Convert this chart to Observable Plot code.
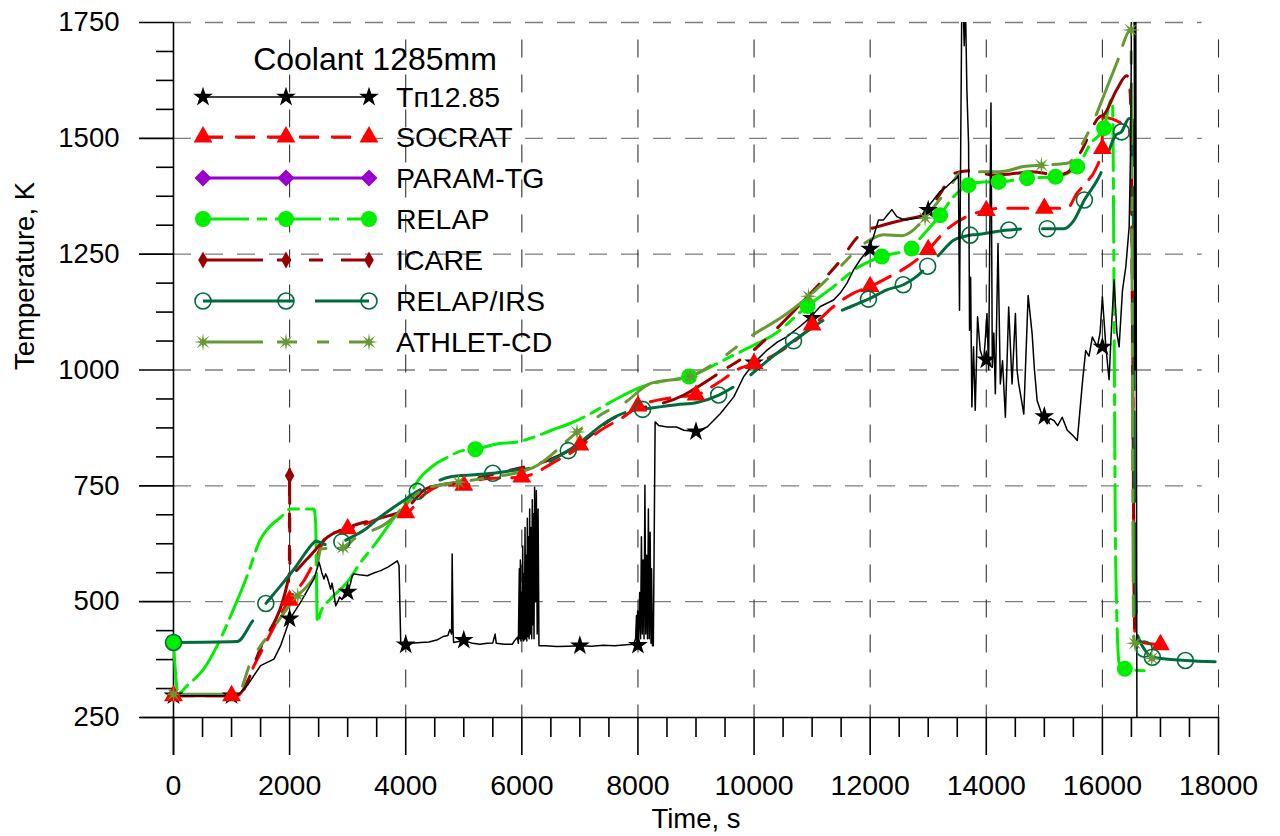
<!DOCTYPE html>
<html>
<head>
<meta charset="utf-8">
<script src="https://cdn.jsdelivr.net/npm/d3@7"></script>
<script src="https://cdn.jsdelivr.net/npm/@observablehq/plot@0.6"></script>
<style>
  html, body { margin: 0; padding: 0; background: #fff; }
  svg { display: block; }
</style>
</head>
<body>
<div id="chart"></div>
<script>
// ---------------- DATA (time s, temperature K) ----------------
const xTicks = [0, 2000, 4000, 6000, 8000, 10000, 12000, 14000, 16000, 18000];
const yTicks = [250, 500, 750, 1000, 1250, 1500, 1750];

const tp1285 = [
 [0,297],[1100,297],[1270,319],[1500,362],[1615,369],[1730,376],[1845,405],[2006,463],[2190,499],[2420,549],
 [2506,585],[2530,575],[2560,560],[2592,549],[2620,560],[2650,552],[2707,527],[2730,540],[2760,520],[2793,491],
 [2830,500],[2860,510],[2900,505],[2950,515],[3006,522],[3050,540],[3080,556],[3109,560],[3200,558],[3339,556],
 [3450,562],[3569,567],[3700,575],[3856,588],[3885,578],[3914,412],[4000,407],[4100,410],[4259,412],[4400,413],
 [4550,418],[4650,425],[4726,427],[4760,440],[4790,430],[4800,603],[4815,440],[4825,412],[5000,416],[5150,410],
 [5280,408],[5400,410],[5500,411],[5539,430],[5560,410],[5700,408],[5834,408],[5870,415],[5926,423],[5940,410],
 [5957,571],[5965,420],[5975,590],[5985,415],[5995,520],[6005,420],[6015,620],[6025,415],[6035,560],[6045,418],
 [6055,660],[6065,420],[6075,600],[6085,415],[6095,680],[6105,425],[6115,640],[6125,420],[6135,700],[6145,430],
 [6160,660],[6170,420],[6180,720],[6190,450],[6200,690],[6210,420],[6220,747],[6235,500],[6250,740],[6265,430],
 [6280,700],[6295,405],[6400,405],[6600,403],[6800,404],[7000,405],[7200,404],[7400,406],[7600,405],[7800,407],
 [7926,408],[7960,420],[7975,470],[7985,410],[7995,480],[8010,415],[8030,520],[8045,420],[8060,640],[8075,430],
 [8090,590],[8105,420],[8120,751],[8135,430],[8150,600],[8165,420],[8180,700],[8195,420],[8210,650],[8225,410],
 [8234,571],[8250,405],[8265,405],[8296,888],[8357,880],[8504,877],[8665,877],[8791,870],[8991,867],[9192,877],
 [9421,906],[9651,942],[9823,986],[10006,1016],[10224,1043],[10400,1060],[10568,1072],[10800,1095],[10957,1112],
 [11141,1137],[11370,1151],[11485,1166],[11599,1187],[11714,1216],[11828,1238],[11972,1261],[12058,1288],
 [12144,1324],[12230,1324],[12300,1335],[12373,1346],[12459,1331],[12550,1326],[12631,1324],[12750,1327],
 [12860,1328],[12946,1345],[13089,1367],[13200,1385],[13320,1396],[13420,1408],[13493,1414],[13520,1420],
 [13539,1129],[13562,1525],[13579,1800],[13600,1800],[13620,1700],[13640,1800],[13666,1604],[13695,1489],
 [13712,1086],[13730,1200],[13752,920],[13780,1050],[13810,913],[13850,1115],[13896,1042],[13954,1021],
 [13980,1060],[14012,1122],[14040,1000],[14081,1576],[14104,1006],[14130,1080],[14156,949],[14202,1273],
 [14242,970],[14280,1020],[14329,898],[14386,1136],[14444,970],[14502,1122],[14530,1000],[14559,970],[14600,940],
 [14646,905],[14721,1161],[14790,1078],[14830,1000],[14876,934],[14963,902],[15049,884],[15100,895],[15164,891],
 [15230,880],[15308,898],[15395,870],[15480,860],[15568,848],[15654,970],[15712,1042],[15770,1030],[15827,1071],
 [15914,1050],[15960,1080],[16000,1158],[16060,1050],[16115,979],[16160,1100],[16202,1194],[16250,1080],
 [16288,1050],[16346,1172],[16404,1223],[16461,1309],[16490,1500],[16502,1800],[16548,1800],[16560,1000],
 [16575,1800],[16595,200]
];
const tp1285Marks = [[0,297],[1000,297],[2000,463],[3000,521],[4000,407],[5000,417],[7000,405],[8000,406],
 [9000,867],[10000,1016],[11000,1112],[12000,1261],[13000,1345],[14000,1022],[15000,900],[16000,1050]];

const socrat = [
 [0,297],[1100,297],[1420,370],[1772,455],[1988,503],[2265,549],[2420,585],[2649,642],[2757,648],[2994,657],
 [3224,664],[3511,678],[3803,688],[4018,692],[4295,729],[4665,751],[5003,751],[5342,765],[6000,769],[6203,776],
 [6511,798],[7046,838],[7311,866],[7742,898],[8018,922],[8676,942],[8991,946],[9364,971],[9765,1004],[10023,1014],
 [10396,1036],[11026,1097],[11370,1137],[11714,1166],[12000,1180],[12344,1202],[12688,1227],[13003,1260],
 [13318,1303],[13662,1331],[13977,1344],[14242,1349],[14991,1349],[15395,1349],[15560,1381],[15731,1406],
 [15870,1430],[15989,1475],[16010,1545],[16450,1520],[16490,1500],[16560,430],[16700,412],[17022,407]
];
const socratMarks = [[0,297],[1000,297],[2000,503],[3000,657],[4000,692],[5000,751],[6000,769],[7000,838],
 [8000,922],[9000,946],[10000,1014],[11000,1097],[12000,1180],[13000,1260],[14000,1344],[15000,1349],
 [16000,1478],[17000,407]];

const paramTG = [];        // listed in the legend, no curve visible
const paramTGMarks = [];

const relap = [
 [0,412],[80,302],[236,319],[523,355],[753,405],[1011,477],[1270,556],[1500,635],[1672,664],[1845,682],
 [2017,700],[2420,700],[2448,671],[2477,455],[2534,477],[2707,506],[2818,520],[2994,542],[3224,585],[3454,621],
 [3741,671],[3988,713],[4234,765],[4480,794],[4726,812],[4972,826],[5200,829],[5588,841],[5896,844],[6203,855],
 [6511,870],[6819,884],[7126,902],[7434,924],[7742,945],[8049,963],[8357,974],[8880,986],[9536,1025],
 [9937,1050],[10338,1076],[10920,1138],[11370,1180],[11771,1220],[12200,1245],[12715,1262],[12859,1284],
 [13205,1334],[13435,1374],[13695,1399],[13954,1406],[14213,1406],[14703,1414],[15193,1417],[15568,1439],
 [15798,1489],[16029,1522],[16150,1583],[16173,1583],[16230,578],[16288,369],[16386,355],[16720,351]
];
const relapMarks = [[0,412],[5200,829],[8880,986],[10920,1138],[12200,1245],[12715,1262],[13205,1334],
 [13695,1399],[14213,1406],[14703,1414],[15193,1417],[15568,1439],[16029,1522],[16386,355]];

const icare = [
 [0,297],[1100,297],[1500,400],[1995,560],[2000,785],[2005,560],[2300,592],[2649,639],[3000,660],[3540,680],
 [4000,700],[4357,744],[5000,760],[5772,783],[6511,808],[7003,841],[7473,888],[8791,946],[9479,1000],
 [9994,1043],[10338,1083],[11083,1180],[11427,1227],[11828,1292],[12230,1313],[12573,1324],[12917,1335],
 [13204,1380],[13435,1424],[13723,1430],[14127,1421],[14415,1423],[14790,1428],[15222,1421],[15395,1426],
 [15617,1468],[15960,1547],[16017,1550],[16246,1605],[16420,1635],[16470,1610],[16490,1560],[16560,430],
 [16600,420]
];
const icareMarks = [[2000,772]];

const relapIRS = [
 [0,412],[1098,414],[1356,457],[1592,496],[1730,517],[2075,570],[2420,628],[2448,631],[2592,624],[2764,621],
 [2908,629],[3109,642],[3311,657],[3511,678],[4000,721],[4201,738],[4500,758],[4800,770],[5495,777],[5834,783],
 [6203,790],[6511,805],[6800,826],[7003,844],[7495,891],[7803,909],[8080,915],[8665,925],[9020,930],[9393,946],
 [9822,978],[10281,1025],[10682,1063],[10911,1083],[11255,1112],[11800,1144],[11972,1153],[12287,1173],
 [12573,1184],[12803,1202],[12990,1224],[13205,1251],[13435,1280],[13720,1291],[13800,1292],[14386,1302],
 [14700,1305],[15049,1305],[15337,1305],[15510,1323],[15690,1367],[15913,1410],[16000,1432],[16231,1507],
 [16329,1514],[16461,1543],[16520,1540],[16560,600],[16603,430],[16720,398],[16864,380],[17429,373],[18000,370]
];
const relapIRSMarks = [[0,412],[1590,496],[2900,629],[4200,738],[5500,777],[6800,826],[8080,915],[9390,946],
 [10680,1063],[11970,1153],[12570,1184],[12990,1224],[13720,1291],[14390,1302],[15050,1305],[15690,1367],
 [16330,1514],[16720,398],[16860,380],[17430,373]];

const athlet = [
 [0,300],[1100,300],[1328,369],[1672,434],[2132,513],[2305,534],[2448,563],[2506,599],[2534,614],[2925,617],
 [3109,635],[3684,671],[3914,696],[4143,728],[4357,744],[4911,758],[5280,765],[6203,790],[6954,866],[7434,909],
 [7742,927],[8218,971],[8905,986],[9307,1014],[9937,1072],[10568,1122],[10940,1159],[11370,1209],[12000,1281],
 [12230,1292],[12550,1290],[12946,1328],[13147,1360],[13378,1396],[13579,1428],[14242,1428],[14646,1439],
 [14950,1442],[15395,1446],[15625,1482],[15856,1540],[16074,1608],[16246,1662],[16490,1734],[16540,420],
 [16600,400],[16890,376]
];
const athletMarks = [[0,300],[2140,513],[2920,617],[4910,758],[6950,866],[8900,986],[10940,1159],[12946,1328],
 [14950,1442],[16490,1734],[16560,410],[16850,378]];

// ---------------- symbols ----------------
const thinDiamond = { draw(c, size) { const r = Math.sqrt(size / Math.PI);
  c.moveTo(0, -r * 1.05); c.lineTo(r * 0.6, 0); c.lineTo(0, r * 1.05); c.lineTo(-r * 0.6, 0); c.closePath(); } };
const squareDiamond = { draw(c, size) { const r = Math.sqrt(size / Math.PI);
  c.moveTo(0, -r); c.lineTo(r, 0); c.lineTo(0, r); c.lineTo(-r, 0); c.closePath(); } };
const burst = { draw(c, size) { const r = Math.sqrt(size / Math.PI);
  for (let k = 0; k < 16; k++) { const a = k * Math.PI / 8 - Math.PI / 2; const rr = k % 2 ? r * 0.3 : r;
    const px = rr * Math.cos(a), py = rr * Math.sin(a); k ? c.lineTo(px, py) : c.moveTo(px, py); } c.closePath(); } };

const series = [
  {name: "Tп12.85", line: tp1285, marks: tp1285Marks, color: "#000000", width: 1.5, dash: null, curve: "linear",
   sym: d3.symbolStar, r: 6.2, fill: "#000000", stroke: "none"},
  {name: "SOCRAT", line: socrat, marks: socratMarks, color: "#ff0000", width: 3, dash: "20,12", curve: "monotone-x",
   sym: d3.symbolTriangle, r: 7, fill: "#ff0000", stroke: "none"},
  {name: "PARAM-TG", line: paramTG, marks: paramTGMarks, color: "#9900cc", width: 3, dash: null, curve: "monotone-x",
   sym: squareDiamond, r: 8.5, fill: "#9900cc", stroke: "none"},
  {name: "RELAP", line: relap, marks: relapMarks, color: "#00ee00", width: 3, dash: "46,8,10,8", curve: "monotone-x",
   sym: d3.symbolCircle, r: 8, fill: "#00ee00", stroke: "none"},
  {name: "ICARE", line: icare, marks: icareMarks, color: "#990000", width: 3, dash: "60,14,14,18,14,18", curve: "monotone-x",
   sym: thinDiamond, r: 8, fill: "#990000", stroke: "none"},
  {name: "RELAP/IRS", line: relapIRS, marks: relapIRSMarks, color: "#006b3c", width: 3, dash: "90,22", curve: "monotone-x",
   sym: d3.symbolCircle, r: 8, fill: "none", stroke: "#006b3c"},
  {name: "ATHLET-CD", line: athlet, marks: athletMarks, color: "#669933", width: 3, dash: "60,14,20,20,12,20", curve: "monotone-x",
   sym: burst, r: 9, fill: "#669933", stroke: "none"}
];

const rows = a => a.map(([t, T]) => ({t, T}));
const minorX = d3.range(0, 18001, 500).filter(v => v % 2000 !== 0);
const minorY = d3.range(250, 1751, 62.5).filter(v => v % 250 !== 0);
const fmt = d => String(d);

const marks = [
  // grid
  Plot.ruleY(yTicks.slice(1), {x1: 0, x2: 17720, stroke: "#7f7f7f", strokeWidth: 1.3, strokeDasharray: "18,14"}),
  Plot.ruleX(xTicks.slice(1), {y1: 1712, y2: 250, stroke: "#333333", strokeWidth: 1.1, strokeDasharray: "18,17"}),
  // axes lines
  Plot.ruleY([250], {x1: -568, x2: 18000, stroke: "#000", strokeWidth: 1.6}),
  Plot.ruleX([0], {y1: 168, y2: 1750, stroke: "#000", strokeWidth: 1.6}),
  Plot.axisX(xTicks, {anchor: "bottom", tickSize: 38, tickPadding: 19, fontSize: 28.5, tickFormat: fmt, label: null, strokeWidth: 1.6}),
  Plot.axisX(minorX, {anchor: "bottom", tickSize: 20, tickFormat: () => "", label: null, strokeWidth: 1.6}),
  Plot.axisY(yTicks, {anchor: "left", tickSize: 34, tickPadding: 20, fontSize: 27.5, tickFormat: fmt, label: null, strokeWidth: 1.6}),
  Plot.axisY(minorY, {anchor: "left", tickSize: 17, tickFormat: () => "", label: null, strokeWidth: 1.6}),
  Plot.text(["Time, s"], {frameAnchor: "bottom", dy: 102, fontSize: 27.5, lineAnchor: "middle"}),
  Plot.text(["Temperature, K"], {frameAnchor: "left", dx: -148, rotate: -90, fontSize: 27.5, lineAnchor: "middle"})
];
// lines: coloured models first, black experiment on top
for (const s of series.slice(1)) {
  if (s.line.length) marks.push(Plot.line(rows(s.line), {x: "t", y: "T", stroke: s.color, strokeWidth: s.width,
    strokeDasharray: s.dash, curve: s.curve, clip: true}));
}
marks.push(Plot.line(rows(tp1285), {x: "t", y: "T", stroke: "#000", strokeWidth: 1.5, clip: true}));
for (const s of series) {
  if (s.marks.length) marks.push(Plot.dot(rows(s.marks), {x: "t", y: "T", symbol: s.sym, r: s.r,
    fill: s.fill, stroke: s.stroke, strokeWidth: 1.6}));
}

const chart = Plot.plot({
  width: 1280, height: 836,
  marginLeft: 173, marginRight: 62, marginTop: 22, marginBottom: 119,
  x: {domain: [0, 18000]},
  y: {domain: [250, 1750]},
  style: {fontFamily: "'Liberation Sans', Arial, sans-serif", fontSize: "28px", background: "#fff", color: "#000", overflow: "visible"},
  marks
});

// ---------------- legend (inside the frame, top-left) ----------------
const svg = d3.select(chart);
const lg = svg.append("g").attr("font-family", "'Liberation Sans', Arial, sans-serif").attr("fill", "#000")
  .attr("text-anchor", "start");
lg.append("text").attr("x", 375).attr("y", 58).attr("dy", "0.36em").attr("text-anchor", "middle")
  .attr("font-size", 32).text("Coolant 1285mm");
const rowY = [97, 137, 178, 219, 260, 301, 342];
series.forEach((s, i) => {
  const y = rowY[i];
  lg.append("line").attr("x1", 203).attr("x2", 369).attr("y1", y).attr("y2", y)
    .attr("stroke", s.color).attr("stroke-width", s.width).attr("stroke-dasharray", s.dash);
  for (const x of [203, 286, 369]) {
    lg.append("path").attr("transform", `translate(${x},${y})`)
      .attr("d", d3.symbol(s.sym, Math.PI * s.r * s.r)())
      .attr("fill", s.fill).attr("stroke", s.stroke).attr("stroke-width", 1.6);
  }
  lg.append("text").attr("x", 396).attr("y", y).attr("dy", "0.36em").attr("text-anchor", "start")
    .attr("font-size", 28.5).text(s.name);
});

document.getElementById("chart").appendChild(chart);
</script>
</body>
</html>
